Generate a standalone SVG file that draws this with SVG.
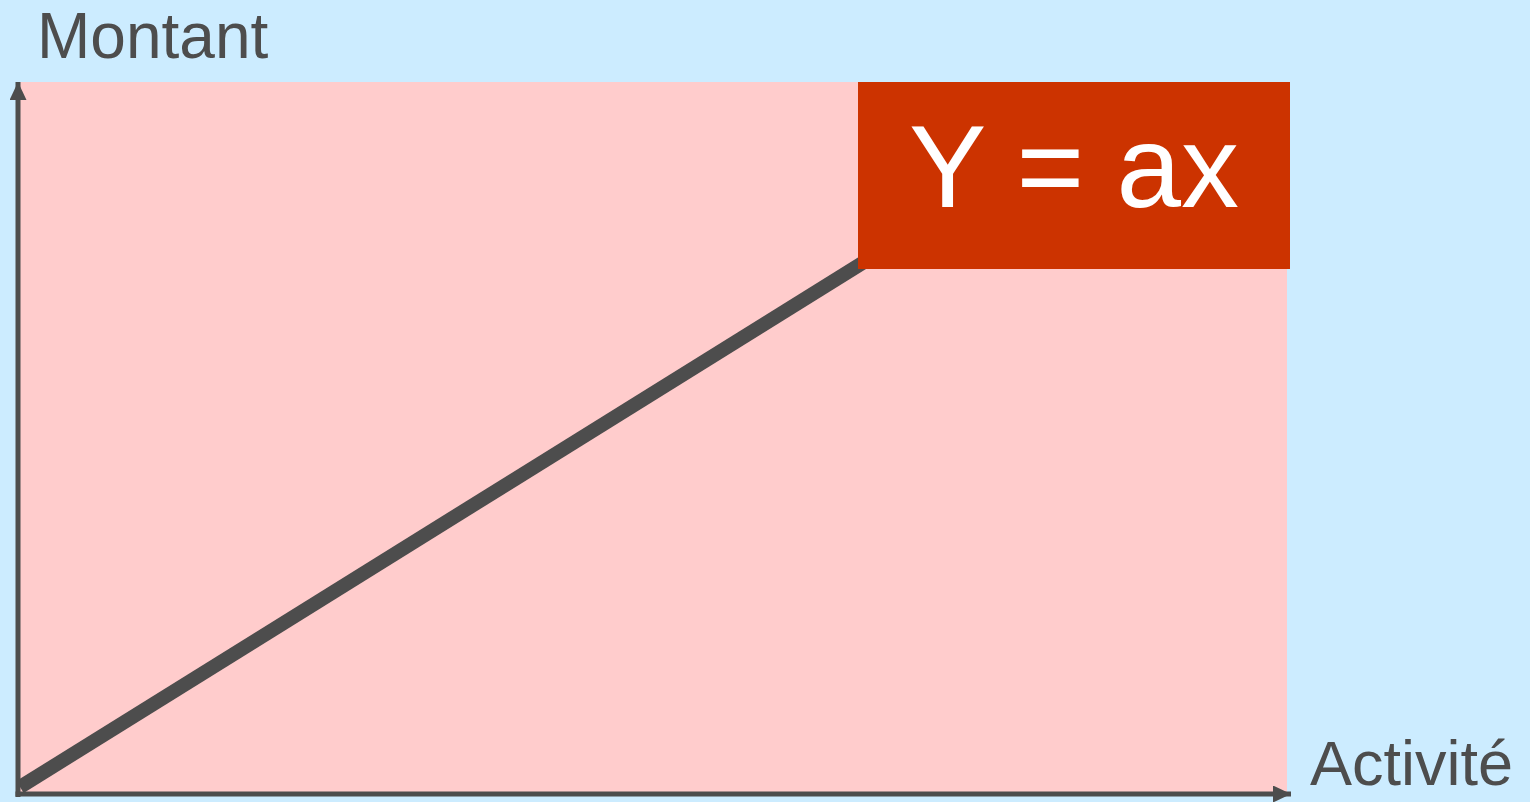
<svg xmlns="http://www.w3.org/2000/svg" width="1530" height="802" viewBox="0 0 1530 802">
<defs>
<style>
.lbl{font-family:"Liberation Sans",Arial,sans-serif;fill:#4d4d4d}
.axis{stroke:#4d4d4d;stroke-width:5;fill:none}
</style>
<marker id="ah" viewBox="0 0 18 17" refX="18" refY="8.5" markerWidth="18" markerHeight="17" markerUnits="userSpaceOnUse" orient="auto">
<path d="M0,0 L18,8.5 L0,17 Z" fill="#4d4d4d"/>
</marker>
</defs>
<rect x="0" y="0" width="1530" height="802" fill="#ccecff"/>
<g id="plot">
<rect x="17" y="82" width="1270" height="711" fill="#ffcccc"/>
</g>
<g id="connectors">
<line x1="20" y1="787" x2="872" y2="257" stroke="#4d4d4d" stroke-width="14"/>
<line class="axis" x1="18" y1="797" x2="18" y2="82" marker-end="url(#ah)"/>
<line class="axis" x1="15.5" y1="794" x2="1291" y2="794" marker-end="url(#ah)"/>
</g>
<g id="formula">
<rect x="858" y="82" width="432" height="187" fill="#cc3300"/>
<text x="1074" y="207" text-anchor="middle" font-family="Liberation Sans,Arial,sans-serif" font-size="116" fill="#ffffff">Y = ax</text>
</g>
<g id="label-y">
<text class="lbl" x="37" y="58" font-size="64">Montant</text>
</g>
<g id="label-x">
<text class="lbl" x="1310" y="785" font-size="63">Activité</text>
</g>
</svg>
